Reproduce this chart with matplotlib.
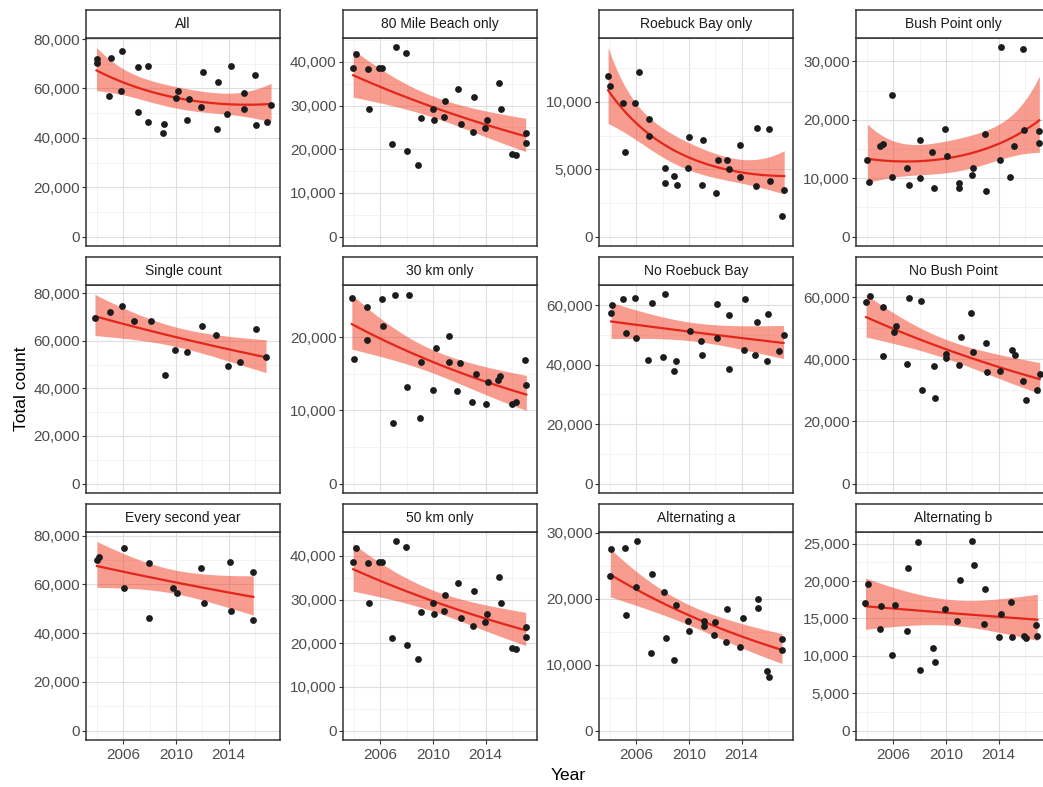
import numpy as np
import matplotlib
matplotlib.use("Agg")
import matplotlib.pyplot as plt
from matplotlib.ticker import FuncFormatter, MultipleLocator

plt.rcParams['font.family'] = ['Liberation Sans', 'DejaVu Sans']

# survey counts per scenario (decimal year of count, total birds)
all_yr = [2003.97, 2004.00, 2004.94, 2005.06, 2005.85, 2005.87, 2007.14, 2007.14, 2007.85, 2007.90,
          2009.04, 2009.11, 2010.00, 2010.15, 2010.81, 2011.01, 2011.90, 2012.05, 2013.11, 2013.16,
          2013.85, 2014.18, 2015.14, 2015.16, 2016.03, 2016.10, 2016.89, 2017.22]
all_n = [71900, 70200, 57100, 72500, 59000, 75000, 68700, 50400, 69000, 46600,
         42000, 45800, 56300, 59000, 47100, 55700, 52700, 66700, 43700, 62800,
         49500, 69200, 58300, 51500, 65400, 45400, 46400, 53400]

m80_yr = [2003.94, 2004.17, 2005.04, 2005.16, 2005.87, 2006.13, 2006.89, 2007.17, 2007.93, 2008.03,
          2008.89, 2009.10, 2010.01, 2010.09, 2010.85, 2010.92, 2011.91, 2012.14, 2013.06, 2013.08,
          2013.94, 2014.12, 2015.01, 2015.14, 2015.97, 2016.28, 2017.04, 2017.04]
m80_n = [38600, 41900, 38300, 29200, 38500, 38600, 21300, 43300, 42000, 19600,
         16400, 27200, 29200, 26600, 27400, 31000, 33700, 25700, 24000, 31900,
         24800, 26700, 35200, 29200, 18800, 18600, 23800, 21500]

rb_yr = [2003.86, 2004.02, 2005.00, 2005.15, 2005.92, 2006.18, 2006.98, 2007.00, 2008.19, 2008.19,
         2008.89, 2009.09, 2009.92, 2010.00, 2011.00, 2011.03, 2012.08, 2012.21, 2012.91, 2013.04,
         2013.86, 2013.86, 2015.07, 2015.17, 2016.08, 2016.18, 2017.08, 2017.23]
rb_n = [11900, 11200, 9950, 6300, 9900, 12200, 7500, 8700, 5100, 4000,
        4500, 3800, 5100, 7400, 3800, 7200, 3250, 5700, 5700, 5000,
        6800, 4400, 3750, 8100, 8000, 4100, 1500, 3450]

bp_yr = [2004.04, 2004.14, 2004.97, 2005.22, 2005.87, 2005.87, 2007.01, 2007.18, 2008.01, 2008.06,
         2008.92, 2009.12, 2009.90, 2010.08, 2010.96, 2010.98, 2011.99, 2012.04, 2012.97, 2013.04,
         2014.13, 2014.18, 2014.86, 2015.13, 2015.86, 2015.94, 2017.09, 2017.09]
bp_n = [13100, 9400, 15500, 15900, 24200, 10200, 11800, 8900, 16500, 10100,
        14500, 8250, 18400, 13800, 8250, 9150, 10600, 11800, 17500, 7750,
        13100, 32400, 10200, 15600, 32100, 18300, 18000, 16100]

sc_yr = [2003.85, 2004.96, 2005.92, 2006.81, 2008.13, 2009.14, 2009.92, 2010.81, 2012.00, 2013.01,
         2013.95, 2014.86, 2016.10, 2016.84]
sc_n = [69500, 72000, 74800, 68200, 68500, 45600, 56000, 55300, 66400, 62300,
        49300, 51200, 64900, 53100]

k30_yr = [2003.84, 2004.00, 2004.96, 2005.01, 2006.13, 2006.18, 2006.99, 2007.12, 2008.03, 2008.18,
          2009.02, 2009.12, 2010.01, 2010.24, 2011.20, 2011.25, 2011.86, 2012.02, 2012.98, 2013.26,
          2014.02, 2014.17, 2014.93, 2015.09, 2016.00, 2016.28, 2016.96, 2017.09]
k30_n = [25300, 17000, 24100, 19600, 25200, 21500, 8300, 25800, 13200, 25700,
         9000, 16600, 12800, 18500, 20100, 16600, 12700, 16500, 11200, 14900,
         10900, 13900, 14200, 14700, 10900, 11200, 16900, 13400]

nr_yr = [2004.09, 2004.14, 2004.99, 2005.20, 2005.87, 2006.00, 2006.90, 2007.18, 2008.01, 2008.21,
         2008.89, 2009.02, 2010.07, 2010.92, 2010.97, 2012.13, 2012.16, 2013.04, 2013.04, 2014.19,
         2014.22, 2015.00, 2015.20, 2015.95, 2015.97, 2016.85, 2017.18]
nr_n = [57500, 60000, 62200, 50500, 62400, 48800, 41400, 60800, 42500, 63600,
        38000, 41100, 51300, 48100, 43200, 49100, 60500, 56600, 38600, 44800,
        62000, 43200, 54300, 41100, 57100, 44500, 49800]

nb_yr = [2003.94, 2004.21, 2005.19, 2005.25, 2006.08, 2006.18, 2007.06, 2007.16, 2008.11, 2008.16,
         2009.07, 2009.14, 2009.97, 2010.03, 2010.96, 2011.13, 2011.91, 2012.04, 2013.02, 2013.14,
         2014.13, 2015.03, 2015.21, 2015.86, 2016.09, 2016.92, 2017.12]
nb_n = [58400, 60500, 56900, 41100, 48700, 50800, 38500, 59700, 58800, 30000,
        37900, 27600, 40500, 41600, 38100, 47300, 54900, 42300, 45300, 36000,
        36400, 42900, 41400, 33100, 27000, 30200, 35400]

es_yr = [2004.00, 2004.13, 2006.05, 2006.08, 2007.92, 2007.97, 2009.80, 2010.10, 2011.90, 2012.13,
         2014.13, 2014.18, 2015.85, 2015.87]
es_n = [69900, 71300, 75000, 58700, 46300, 68800, 58700, 56300, 66500, 52500,
        69000, 49200, 45400, 65200]

# 50 km subset gives the same counts as 80 Mile Beach
k50_yr = list(m80_yr)
k50_n = list(m80_n)

aa_yr = [2004.04, 2004.09, 2005.17, 2005.22, 2005.95, 2006.05, 2007.11, 2007.23, 2008.14, 2008.24,
         2008.86, 2009.04, 2009.92, 2009.97, 2011.18, 2011.18, 2011.88, 2012.01, 2012.83, 2012.91,
         2013.84, 2014.07, 2015.22, 2015.22, 2015.95, 2016.10, 2017.03, 2017.06]
aa_n = [23500, 27600, 27700, 17600, 21800, 28700, 11700, 23800, 21100, 14100,
        10700, 19100, 16700, 15100, 16600, 15900, 14500, 16500, 13400, 18400,
        12700, 17100, 18600, 19900, 9000, 8100, 13900, 12300]

ab_yr = [2003.89, 2004.09, 2004.99, 2005.09, 2005.92, 2006.10, 2007.06, 2007.11, 2007.86, 2008.01,
         2009.02, 2009.17, 2009.92, 2010.83, 2011.08, 2011.96, 2012.16, 2012.92, 2012.94, 2014.00,
         2014.15, 2014.91, 2015.03, 2015.94, 2016.11, 2016.87, 2016.94]
ab_n = [17000, 19600, 13600, 16600, 10100, 16800, 13300, 21800, 25200, 8100,
        11100, 9200, 16300, 14700, 20200, 25300, 22100, 14300, 18900, 12500,
        15600, 17200, 12500, 12700, 12400, 14100, 12700]

titles = ["All", "80 Mile Beach only", "Roebuck Bay only", "Bush Point only",
          "Single count", "30 km only", "No Roebuck Bay", "No Bush Point",
          "Every second year", "50 km only", "Alternating a", "Alternating b"]
series = [(all_yr, all_n), (m80_yr, m80_n), (rb_yr, rb_n), (bp_yr, bp_n),
          (sc_yr, sc_n), (k30_yr, k30_n), (nr_yr, nr_n), (nb_yr, nb_n),
          (es_yr, es_n), (k50_yr, k50_n), (aa_yr, aa_n), (ab_yr, ab_n)]
# trend degree and curvature penalty for each panel
degrees = [2, 1, 2, 2,
           1, 1, 1, 1,
           1, 1, 1, 1]
penalty = [4500, 0, 2500, 4000,
           0, 0, 0, 0,
           0, 0, 0, 0]
ysteps = [20000, 10000, 5000, 10000,
          20000, 10000, 20000, 20000,
          20000, 10000, 10000, 5000]


def smooth(x, y, deg, lam, n=100):
    # quasi-Poisson GLM (log link), penalised polynomial in year, 95% band
    x = np.asarray(x, float)
    y = np.asarray(y, float)
    x0 = x.mean()
    X = np.column_stack([(x - x0) ** k for k in range(deg + 1)])
    P = np.zeros((deg + 1, deg + 1))
    if deg > 1:
        P[-1, -1] = lam * y.mean()
    b = np.linalg.lstsq(X, np.log(y), rcond=None)[0]
    for _ in range(60):
        eta = X @ b
        mu = np.exp(eta)
        z = eta + (y - mu) / mu
        XtW = X.T * mu
        b = np.linalg.solve(XtW @ X + P, XtW @ z)
    mu = np.exp(X @ b)
    XtW = X.T * mu
    A = np.linalg.inv(XtW @ X + P)
    edf = np.trace(A @ XtW @ X)
    phi = np.sum((y - mu) ** 2 / mu) / (len(y) - edf)
    cov = phi * A
    xs = np.linspace(x.min(), x.max(), n)
    Xs = np.column_stack([(xs - x0) ** k for k in range(deg + 1)])
    fit = Xs @ b
    se = np.sqrt(np.sum((Xs @ cov) * Xs, axis=1))
    return xs, np.exp(fit), np.exp(fit - 1.96 * se), np.exp(fit + 1.96 * se)


W, H = 1043, 787
fig = plt.figure(figsize=(W / 100, H / 100), dpi=100)

col_left = [86, 343, 599, 856]
row_top = [10, 257, 504]
pw, sh, ph = 194, 28, 208

allx = np.concatenate([np.asarray(s[0]) for s in series])
span = allx.max() - allx.min()
xlim = (allx.min() - 0.05 * span, allx.max() + 0.05 * span)

comma = FuncFormatter(lambda v, p: f"{int(round(v)):,}")
border = '#333333'

for i, (title, (yr, n), deg, lam, step) in enumerate(zip(titles, series, degrees, penalty, ysteps)):
    r, c = divmod(i, 4)
    l = col_left[c]
    t = row_top[r]
    ax = fig.add_axes([l / W, 1 - (t + sh + ph) / H, pw / W, ph / H])
    st = fig.add_axes([l / W, 1 - (t + sh) / H, pw / W, sh / H])

    xs, fit, lo, hi = smooth(yr, n, deg, lam)
    ax.fill_between(xs, lo, hi, color='#F03B20', alpha=0.5, lw=0, zorder=2)
    ax.plot(xs, fit, color='#E3261A', lw=1.6, zorder=3)
    ax.scatter(yr, n, s=24, color='#1c1c1c', lw=0, zorder=4)

    top = max(max(n), hi.max())
    ax.set_ylim(-0.05 * top, 1.05 * top)
    ax.set_xlim(*xlim)
    ax.yaxis.set_major_locator(MultipleLocator(step))
    ax.yaxis.set_minor_locator(MultipleLocator(step / 2))
    ax.yaxis.set_major_formatter(comma)
    ax.xaxis.set_major_locator(MultipleLocator(4, offset=2))
    ax.xaxis.set_minor_locator(MultipleLocator(2))
    ax.grid(which='major', color='#dedede', lw=0.8, zorder=0)
    ax.grid(which='minor', color='#efefef', lw=0.5, zorder=0)
    ax.set_axisbelow(True)
    ax.tick_params(which='minor', length=0)
    ax.tick_params(which='major', length=3, width=0.8, color=border,
                   labelsize=11, labelcolor='#4d4d4d', pad=1.5)
    if r < 2:
        ax.tick_params(axis='x', which='both', length=0, labelbottom=False)
    else:
        ax.tick_params(axis='x', pad=3)
    for sp in ax.spines.values():
        sp.set_color(border)
        sp.set_linewidth(1.1)

    st.set_xticks([])
    st.set_yticks([])
    st.set_facecolor('white')
    for sp in st.spines.values():
        sp.set_color(border)
        sp.set_linewidth(1.1)
    st.text(0.5, 0.5, title, ha='center', va='center', fontsize=10,
            color='#1a1a1a', transform=st.transAxes)

fig.text(568 / W, 1 - 775 / H, "Year", ha='center', va='center', fontsize=12.5)
fig.text(22 / W, 1 - 389 / H, "Total count", ha='center', va='center',
         rotation=90, fontsize=12.5)

fig.savefig("out.png", dpi=100, facecolor='white')
